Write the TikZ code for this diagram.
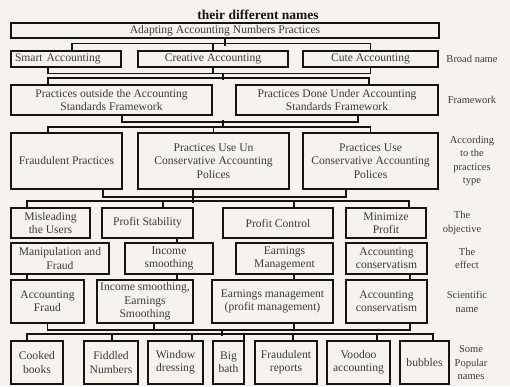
\documentclass[tikz,border=0pt]{standalone}
\usepackage{fontspec}
\setmainfont{Liberation Serif}
\usetikzlibrary{positioning, calc}
\definecolor{paper}{RGB}{246,243,239}
\definecolor{ink}{RGB}{22,20,18}
\definecolor{boxText}{RGB}{60,58,56}

\begin{document}
\begin{tikzpicture}[x=1pt, y=-1pt,
  box/.style={draw=ink, line width=2pt, fill=paper, inner sep=2pt, align=center, text=boxText, font=\fontsize{11.6}{13.3}\selectfont},
  tag/.style={text=boxText, align=center, font=\fontsize{10.5}{13.5}\selectfont},
  link/.style={draw=ink, line width=1.1pt}
]
\useasboundingbox (0,0) rectangle (510,386);
\fill[paper] (0,0) rectangle (510,386);

\node[font=\bfseries\fontsize{13.5}{16}\selectfont, text=ink] (title) at (258,15) {their different names};
\node[box, minimum width=428pt, minimum height=15pt] (anp) at (225,30.5) {Adapting Accounting Numbers Practices};

% broad name
\node[box, minimum width=110pt, minimum height=16pt, text width=102pt, align=left] (smart) at (66,59) {Smart Accounting};
\foreach \n/\x/\w/\t in {creative/213/150/Creative Accounting, cute/370.5/135/Cute Accounting}
  \node[box, minimum width=\w pt, minimum height=16pt] (\n) at (\x,59) {\t};
% framework
\foreach \n/\x/\w/\t in {outside/111.5/201/{Practices outside the Accounting\\Standards Framework},
  under/337/202/{Practices Done Under Accounting\\Standards Framework}}
  \node[box, minimum width=\w pt, minimum height=30pt] (\n) at (\x,100) {\t};
% practices type
\foreach \n/\x/\w/\t in {fraud/66.5/111/Fraudulent Practices,
  uncons/213.5/151/{Practices Use Un\\Conservative Accounting\\Polices},
  cons/370.5/135/{Practices Use\\Conservative Accounting\\Polices}}
  \node[box, minimum width=\w pt, minimum height=56pt] (\n) at (\x,161) {\t};
% objective
\foreach \n/\x/\w/\t in {mislead/50.5/79/{Misleading\\the Users}, stability/147.5/91/Profit Stability,
  control/278/110/Profit Control, minimize/386/80/{Minimize\\Profit}}
  \node[box, minimum width=\w pt, minimum height=30pt] (\n) at (\x,223) {\t};
% effect
\foreach \n/\x/\w/\t in {manip/60/98/{Manipulation and\\Fraud}, incsm/169/88/{Income\\smoothing},
  earnm/284.5/97/{Earnings\\Management}, acccons/386.5/81/{Accounting\\conservatism}}
  \node[box, minimum width=\w pt, minimum height=31pt] (\n) at (\x,258.5) {\t};
% scientific name
\foreach \n/\x/\w/\t in {accfraud/47.5/73/{Accounting\\Fraud}, smooth/145/96/{Income smoothing,\\Earnings\\Smoothing},
  earnpm/272.5/121/{Earnings management\\(profit management)}, conserv/386.5/81/{Accounting\\conservatism}}
  \node[box, minimum width=\w pt, minimum height=43pt] (\n) at (\x,301.5) {\t};
% popular names
\foreach \n/\x/\w/\t in {cooked/37/52/{Cooked\\books}, fiddled/111/54/{Fiddled\\Numbers}, window/175.5/55/{Window\\dressing},
  bigbath/228.5/31/{Big\\bath}, freports/286/62/{Fraudulent\\reports}, voodoo/358.5/63/{Voodoo\\accounting}, bubbles/424.5/49/bubbles}
  \node[box, minimum width=\w pt, minimum height=43pt] (\n) at (\x,362.5) {\t};

% side tags
\node[tag] (tBroad) at (472,59) {Broad name};
\node[tag] (tFrame) at (472,100) {Framework};
\node[tag] (tType) at (472,161) {According\\to the\\practices\\type};
\node[tag] (tObj) at (462,223) {The\\objective};
\node[tag] (tEffect) at (467,258.5) {The\\effect};
\node[tag] (tSci) at (467,302) {Scientific\\name};
\node[tag] (tPop) at (471,363) {Some\\Popular\\names};

% links
\draw[link] (anp.south) -- ([yshift=-6.5pt]anp.south);
\draw[link] ([xshift=6pt]smart.north) |- ([yshift=6.5pt]cute.north) -- (cute.north);
\draw[link] (creative.north) -- ([yshift=6.5pt]creative.north);

\draw[link] ([xshift=-18pt]smart.south) |- ([yshift=-5.5pt]cute.south) -- (cute.south);
\draw[link] (creative.south) -- ([yshift=-5.5pt]creative.south);
\draw[link] ([xshift=10pt,yshift=-5.5pt]creative.south) -- ([xshift=10pt,yshift=-12pt]creative.south);
\draw[link] ([xshift=-63.5pt]outside.north) |- ([xshift=32pt,yshift=6pt]under.north) -- ([xshift=32pt]under.north);

\draw[link] ([xshift=10.5pt]outside.south) |- ([xshift=21pt,yshift=-6pt]under.south) -- ([xshift=21pt]under.south);
\draw[link] ([xshift=9.5pt,yshift=12pt]uncons.north) -- ([xshift=9.5pt,yshift=5pt]uncons.north);
\draw[link] ([xshift=-18.5pt]fraud.north) |- ([yshift=5pt]cons.north) -- (cons.north);
\draw[link] (uncons.north) -- ([yshift=5pt]uncons.north);

\draw[link] ([xshift=36.5pt]fraud.south) |- ([xshift=-24.5pt,yshift=-7pt]cons.south) -- ([xshift=-24.5pt]cons.south);
\draw[link] ([xshift=-20.5pt]uncons.south) -- ([xshift=-20.5pt,yshift=-13pt]uncons.south);
\draw[link] ([xshift=-23.5pt]mislead.north) |- ([xshift=23pt,yshift=6pt]minimize.north) -- ([xshift=23pt]minimize.north);
\draw[link] ([xshift=15.5pt]stability.north) -- ([xshift=15.5pt,yshift=6pt]stability.north);
\draw[link] ([xshift=16pt]control.north) -- ([xshift=16pt,yshift=6pt]control.north);

\draw[link] ([xshift=29.5pt]stability.south) -- ([xshift=8pt]incsm.north);

\draw[link] ([xshift=-33pt]manip.south) -- ([xshift=-20.5pt]accfraud.north);
\draw[link] ([xshift=8pt]incsm.south) -- ([xshift=32pt]smooth.north);
\draw[link] ([xshift=9.5pt]earnm.south) -- ([xshift=21.5pt]earnpm.north);
\draw[link] ([xshift=23.5pt]acccons.south) -- ([xshift=23.5pt]conserv.north);

\draw[link] (accfraud.south) |- ([xshift=23.5pt,yshift=-6pt]conserv.south) -- ([xshift=23.5pt]conserv.south);
\draw[link] ([xshift=9pt]smooth.south) -- ([xshift=9pt,yshift=-6pt]smooth.south);
\draw[link] ([xshift=21.5pt]earnpm.south) -- ([xshift=21.5pt,yshift=-6pt]earnpm.south);
\draw[link] ([xshift=-50.5pt,yshift=-6pt]earnpm.south) -- ([xshift=-50.5pt,yshift=-12pt]earnpm.south);
\draw[link] ([xshift=-10pt]cooked.north) |- ([xshift=8.5pt,yshift=6pt]bubbles.north) -- ([xshift=8.5pt]bubbles.north);
\foreach \n/\s in {fiddled/1, window/16.5, bigbath/15.5, freports/7, voodoo/18.5}
  \draw[link] ([xshift=\s pt]\n.north) -- ([xshift=\s pt,yshift=6pt]\n.north);
\end{tikzpicture}
\end{document}
